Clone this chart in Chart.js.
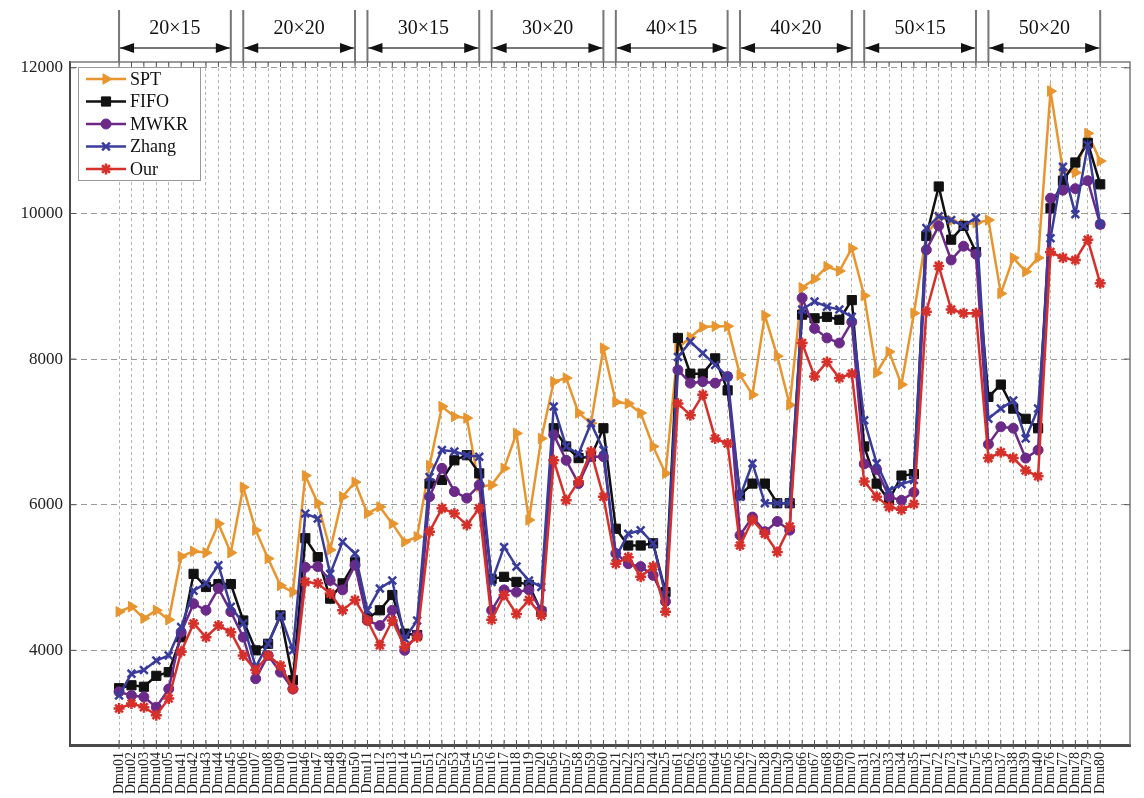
<!DOCTYPE html>
<html lang="en">
<head>
<meta charset="utf-8">
<title>Makespan por instancia</title>
<script src="https://cdn.jsdelivr.net/npm/chart.js@4.4.1/dist/chart.umd.min.js"></script>
<style>
    html, body { margin: 0; padding: 0; background: #fff; }
    #wrap { width: 1144px; height: 798px; }
</style>
</head>
<body>
<div id="wrap"><canvas id="makespanChart" width="1144" height="798"></canvas></div>
<script>
// Instancias en el orden del eje x (grupos de 10)
const instances = [
    'Dmu01', 'Dmu02', 'Dmu03', 'Dmu04', 'Dmu05', 'Dmu41', 'Dmu42', 'Dmu43', 'Dmu44', 'Dmu45',
    'Dmu06', 'Dmu07', 'Dmu08', 'Dmu09', 'Dmu10', 'Dmu46', 'Dmu47', 'Dmu48', 'Dmu49', 'Dmu50',
    'Dmu11', 'Dmu12', 'Dmu13', 'Dmu14', 'Dmu15', 'Dmu51', 'Dmu52', 'Dmu53', 'Dmu54', 'Dmu55',
    'Dmu16', 'Dmu17', 'Dmu18', 'Dmu19', 'Dmu20', 'Dmu56', 'Dmu57', 'Dmu58', 'Dmu59', 'Dmu60',
    'Dmu21', 'Dmu22', 'Dmu23', 'Dmu24', 'Dmu25', 'Dmu61', 'Dmu62', 'Dmu63', 'Dmu64', 'Dmu65',
    'Dmu26', 'Dmu27', 'Dmu28', 'Dmu29', 'Dmu30', 'Dmu66', 'Dmu67', 'Dmu68', 'Dmu69', 'Dmu70',
    'Dmu31', 'Dmu32', 'Dmu33', 'Dmu34', 'Dmu35', 'Dmu71', 'Dmu72', 'Dmu73', 'Dmu74', 'Dmu75',
    'Dmu36', 'Dmu37', 'Dmu38', 'Dmu39', 'Dmu40', 'Dmu76', 'Dmu77', 'Dmu78', 'Dmu79', 'Dmu80'
];
const groupNames = ['20×15', '20×20', '30×15', '30×20', '40×15', '40×20', '50×15', '50×20'];
const groupSize = 10;
const yTicks = [4000, 6000, 8000, 10000, 12000];

// Makespan de cada método
const spt = [
    4530, 4600, 4440, 4550, 4420, 5290, 5360, 5340, 5740, 5340,
    6240, 5650, 5260, 4890, 4800, 6400, 6020, 5380, 6110, 6310,
    5880, 5970, 5740, 5490, 5560, 6540, 7350, 7210, 7190, 6250,
    6270, 6500, 6980, 5790, 6910, 7690, 7740, 7260, 7120, 8150,
    7410, 7390, 7260, 6800, 6430, 8150, 8300, 8440, 8450, 8450,
    7780, 7510, 8600, 8040, 7370, 8980, 9100, 9270, 9210, 9520,
    8870, 7810, 8100, 7650, 8630, 9700, 9950, 9900, 9850, 9870,
    9910, 8900, 9390, 9200, 9390, 11680, 10590, 10560, 11100, 10720
];
const fifo = [
    3480, 3520, 3500, 3650, 3700, 4180, 5050, 4870, 4910, 4910,
    4410, 4000, 4090, 4480, 3590, 5540, 5280, 4710, 4920, 5210,
    4440, 4550, 4760, 4230, 4210, 6290, 6340, 6610, 6680, 6430,
    4980, 5010, 4940, 4900, 4530, 7050, 6800, 6640, 6660, 7050,
    5670, 5440, 5440, 5470, 4800, 8290, 7800, 7800, 8010, 7570,
    6130, 6290, 6290, 6020, 6020, 8610, 8560, 8580, 8540, 8810,
    6800, 6290, 6060, 6400, 6420, 9690, 10370, 9640, 9830, 9470,
    7480, 7650, 7320, 7180, 7050, 10070, 10450, 10700, 10970, 10400
];
const mwkr = [
    3430, 3380, 3360, 3220, 3470, 4250, 4640, 4550, 4850, 4530,
    4180, 3610, 3930, 3700, 3470, 5140, 5150, 4960, 4830, 5170,
    4410, 4340, 4550, 4000, 4210, 6110, 6500, 6180, 6090, 6270,
    4550, 4830, 4800, 4830, 4550, 6960, 6610, 6290, 6660, 6660,
    5330, 5190, 5150, 5030, 4670, 7850, 7670, 7690, 7670, 7760,
    5580, 5830, 5630, 5770, 5650, 8840, 8420, 8290, 8220, 8510,
    6560, 6480, 6110, 6060, 6170, 9500, 9830, 9360, 9550, 9440,
    6830, 7070, 7050, 6640, 6750, 10210, 10320, 10340, 10450, 9850
];
const zhang = [
    3380, 3680, 3730, 3860, 3930, 4320, 4820, 4920, 5170, 4600,
    4370, 3770, 4090, 4480, 4000, 5880, 5810, 5050, 5490, 5330,
    4550, 4850, 4960, 4160, 4410, 6380, 6750, 6730, 6680, 6660,
    4940, 5420, 5150, 4960, 4870, 7350, 6800, 6700, 7120, 6750,
    5280, 5600, 5650, 5470, 4760, 8030, 8240, 8080, 7920, 7760,
    6110, 6570, 6020, 6020, 6020, 8680, 8790, 8720, 8680, 8580,
    7160, 6570, 6200, 6280, 6340, 9800, 9960, 9910, 9830, 9940,
    7180, 7320, 7430, 6910, 7320, 9660, 10640, 9990, 10940, 9850
];
const our = [
    3200, 3270, 3220, 3110, 3340, 3980, 4370, 4180, 4340, 4250,
    3930, 3730, 3930, 3790, 3470, 4940, 4920, 4780, 4550, 4690,
    4410, 4070, 4410, 4050, 4180, 5630, 5950, 5880, 5720, 5950,
    4420, 4760, 4500, 4690, 4480, 6610, 6060, 6320, 6730, 6110,
    5190, 5280, 5010, 5150, 4530, 7390, 7230, 7510, 6910, 6840,
    5440, 5790, 5600, 5350, 5700, 8220, 7760, 7960, 7740, 7800,
    6320, 6110, 5970, 5930, 6010, 8650, 9280, 8680, 8630, 8630,
    6640, 6720, 6640, 6470, 6390, 9470, 9390, 9360, 9640, 9040
];

const SERIF = "'Liberation Serif', 'Times New Roman', serif";

/**
 * Crea un dataset de línea con marcadores
 */
function serie(label, values, color, pointStyle, radius, extra) {
    return Object.assign({
        label: label,
        data: values.map((v, i) => ({ x: i, y: v })),
        borderColor: color,
        backgroundColor: color,
        borderWidth: 2.5,
        tension: 0,
        pointStyle: pointStyle,
        pointRadius: radius,
        pointBorderWidth: 1,
        pointBackgroundColor: color,
        pointBorderColor: color
    }, extra || {});
}

const datasets = [
    serie('SPT', spt, '#e8952f', 'triangle', 6, { pointRotation: 90, order: 5 }),
    serie('FIFO', fifo, '#111111', 'rect', 6.5, { order: 4 }),
    serie('MWKR', mwkr, '#6b2a88', 'circle', 5, { order: 3 }),
    serie('Zhang', zhang, '#3a3c9c', 'crossRot', 5.5, { pointBorderWidth: 2.5, order: 2 }),
    serie('Our', our, '#d6302b', 'star', 5.5, { pointBorderWidth: 2.5, order: 1 })
];

// Marco superior/derecho y marcas cortas de los ejes
const framePlugin = {
    id: 'frame',
    beforeDatasetsDraw(chart) {
        const { ctx, chartArea: a, scales: { x, y } } = chart;
        ctx.save();
        ctx.strokeStyle = '#7a7a7a';
        ctx.lineWidth = 1.5;
        ctx.beginPath();
        ctx.moveTo(a.left, a.top);
        ctx.lineTo(a.right, a.top);
        ctx.lineTo(a.right, a.bottom);
        ctx.stroke();

        ctx.strokeStyle = '#555';
        ctx.lineWidth = 1;
        ctx.beginPath();
        instances.forEach((_, i) => {
            const px = x.getPixelForValue(i);
            ctx.moveTo(px, a.bottom - 5);
            ctx.lineTo(px, a.bottom + 4);
            ctx.moveTo(px, a.top);
            ctx.lineTo(px, a.top + 5);
        });
        yTicks.forEach(v => {
            const py = y.getPixelForValue(v);
            ctx.moveTo(a.left, py);
            ctx.lineTo(a.left + 6, py);
            ctx.moveTo(a.right, py);
            ctx.lineTo(a.right - 6, py);
        });
        ctx.stroke();
        ctx.restore();
    }
};

// Cabecera con el tamaño de cada grupo de instancias
const groupPlugin = {
    id: 'groups',
    afterDraw(chart) {
        const { ctx, chartArea: a, scales: { x } } = chart;
        const lineTop = 10;
        const arrowY = 48;
        ctx.save();
        groupNames.forEach((name, g) => {
            const x0 = x.getPixelForValue(g * groupSize);
            const x1 = x.getPixelForValue(g * groupSize + groupSize - 1);

            ctx.strokeStyle = '#777';
            ctx.lineWidth = 2;
            ctx.beginPath();
            ctx.moveTo(x0, lineTop);
            ctx.lineTo(x0, a.top);
            ctx.moveTo(x1, lineTop);
            ctx.lineTo(x1, a.top);
            ctx.moveTo(x0, arrowY);
            ctx.lineTo(x1, arrowY);
            ctx.stroke();

            // puntas de flecha
            ctx.fillStyle = '#111';
            ctx.beginPath();
            ctx.moveTo(x0 + 1, arrowY);
            ctx.lineTo(x0 + 15, arrowY - 5);
            ctx.lineTo(x0 + 15, arrowY + 5);
            ctx.closePath();
            ctx.moveTo(x1 - 1, arrowY);
            ctx.lineTo(x1 - 15, arrowY - 5);
            ctx.lineTo(x1 - 15, arrowY + 5);
            ctx.closePath();
            ctx.fill();

            ctx.font = '20px ' + SERIF;
            ctx.textAlign = 'center';
            ctx.textBaseline = 'middle';
            ctx.fillText(name, (x0 + x1) / 2, 29);
        });
        ctx.restore();
    }
};

// Leyenda dentro del área del gráfico
const legendPlugin = {
    id: 'innerLegend',
    afterDatasetsDraw(chart) {
        const ctx = chart.ctx;
        const box = { left: 78, top: 67, width: 122, height: 113 };
        ctx.save();
        ctx.fillStyle = '#fff';
        ctx.fillRect(box.left, box.top, box.width, box.height);
        ctx.strokeStyle = '#999';
        ctx.lineWidth = 1;
        ctx.strokeRect(box.left + 0.5, box.top + 0.5, box.width, box.height);

        chart.data.datasets.forEach((ds, k) => {
            const yy = box.top + 12 + k * 22.5;
            ctx.strokeStyle = ds.borderColor;
            ctx.fillStyle = ds.borderColor;
            ctx.lineWidth = 2.5;
            ctx.beginPath();
            ctx.moveTo(86, yy);
            ctx.lineTo(126, yy);
            ctx.stroke();
            ctx.lineWidth = ds.pointBorderWidth;
            Chart.helpers.drawPoint(ctx, {
                pointStyle: ds.pointStyle,
                rotation: ds.pointRotation || 0,
                radius: ds.pointRadius,
                borderWidth: ds.pointBorderWidth
            }, 106, yy);

            ctx.fillStyle = '#111';
            ctx.font = '18px ' + SERIF;
            ctx.textAlign = 'left';
            ctx.textBaseline = 'middle';
            ctx.fillText(ds.label, 130, yy + 1);
        });
        ctx.restore();
    }
};

new Chart(document.getElementById('makespanChart'), {
    type: 'line',
    data: { datasets: datasets },
    options: {
        responsive: false,
        animation: false,
        devicePixelRatio: 1,
        layout: { padding: { top: 62, right: 14, left: 0, bottom: 0 } },
        plugins: {
            legend: { display: false },
            tooltip: { enabled: false }
        },
        scales: {
            x: {
                type: 'linear',
                min: -3.95,
                max: 81.4,
                afterBuildTicks: scale => { scale.ticks = instances.map((_, i) => ({ value: i })); },
                afterFit: scale => { scale.height = 53; },
                ticks: {
                    autoSkip: false,
                    maxRotation: 90,
                    minRotation: 90,
                    padding: 7,
                    color: '#222',
                    font: { family: SERIF, size: 14 },
                    callback: v => instances[v]
                },
                grid: { color: '#b4b4b4', lineWidth: 1, drawTicks: false },
                border: { display: true, color: '#4a4a4a', width: 3, dash: [3, 3] }
            },
            y: {
                min: 2700,
                max: 12080,
                afterBuildTicks: scale => { scale.ticks = yTicks.map(v => ({ value: v })); },
                afterFit: scale => { scale.width = 70; },
                ticks: {
                    padding: 7,
                    color: '#222',
                    font: { family: SERIF, size: 17 },
                    callback: v => String(v)
                },
                grid: { color: '#9a9a9a', lineWidth: 1, drawTicks: false },
                border: { display: true, color: '#4a4a4a', width: 2, dash: [6, 4] }
            }
        }
    },
    plugins: [framePlugin, groupPlugin, legendPlugin]
});
</script>
</body>
</html>
